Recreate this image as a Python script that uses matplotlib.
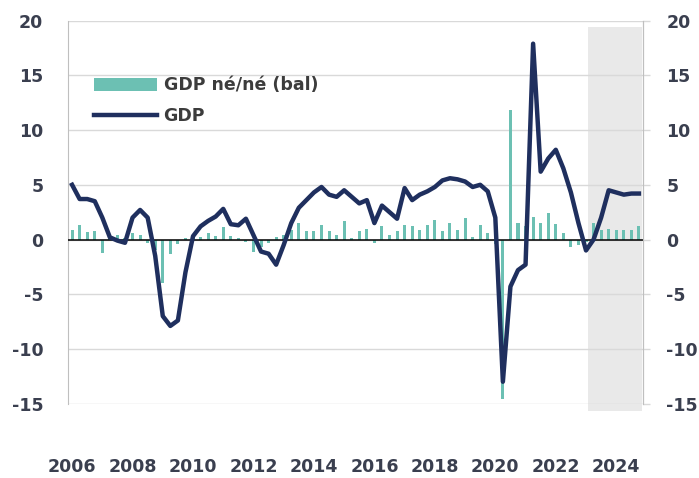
import numpy as np
import matplotlib.pyplot as plt

plt.rcParams['axes.unicode_minus'] = False

# quarterly data 2006Q1 - 2024Q4
gdp_yoy = [5.0, 3.7, 3.7, 3.5, 2.0, 0.2, -0.1, -0.3,
           2.0, 2.7, 2.0, -1.5, -7.0, -7.9, -7.4, -3.0,
           0.3, 1.2, 1.7, 2.1, 2.8, 1.4, 1.3, 1.9,
           0.4, -1.1, -1.3, -2.3, -0.5, 1.5, 2.9, 3.6,
           4.3, 4.8, 4.1, 3.9, 4.5, 3.9, 3.3, 3.6,
           1.5, 3.1, 2.5, 1.9, 4.7, 3.6, 4.1, 4.4,
           4.8, 5.4, 5.6, 5.5, 5.3, 4.8, 5.0, 4.4,
           2.0, -13.0, -4.3, -2.8, -2.3, 17.9, 6.2, 7.4,
           8.2, 6.5, 4.3, 1.5, -1.0, 0.0, 2.0, 4.5,
           4.3, 4.1, 4.2, 4.2]

gdp_qoq = [0.9, 1.3, 0.7, 0.8, -1.2, 0.2, 0.4, 0.1,
           0.6, 0.4, -0.3, -1.0, -4.0, -1.3, -0.4, 0.1,
           0.3, 0.2, 0.6, 0.3, 1.1, 0.3, 0.1, -0.2,
           -1.1, -0.7, -0.3, 0.2, 0.4, 0.9, 1.5, 0.8,
           0.8, 1.3, 0.8, 0.4, 1.7, 0.1, 0.8, 1.0,
           -0.35, 1.2, 0.4, 0.8, 1.3, 1.2, 0.9, 1.3,
           1.8, 0.8, 1.5, 0.9, 2.0, 0.25, 1.3, 0.6,
           -0.4, -14.6, 11.8, 1.5, 1.2, 2.1, 1.5, 2.4,
           1.4, 0.6, -0.7, -0.5, -0.2, 1.5, 0.9, 0.95,
           0.9, 0.9, 0.9, 1.2]

years = list(range(2006, 2025, 2))
forecast_start = 68.2

x = np.arange(len(gdp_yoy))

fig = plt.figure(figsize=(6.99, 4.78), dpi=100)
ax = fig.add_axes([68.3/699, (478-403.6)/478, (642.7-68.3)/699, (403.6-20.7)/478])

ax.set_xlim(-0.5, len(x) - 0.5)
ax.set_ylim(-15, 20)

# forecast shading
ax.axvspan(forecast_start, len(x) - 0.6, ymin=-0.019, ymax=0.983,
           color='#e9e9e9', lw=0, zorder=0, clip_on=False)

bars = ax.bar(x, gdp_qoq, width=0.4, color='#6cc0b3', zorder=2, label='GDP né/né (bal)')
ax.axhline(0, color='black', lw=1.1, zorder=3)
line, = ax.plot(x, gdp_yoy, color='#1f2f5e', lw=3.2, solid_joinstyle='round',
                zorder=4, label='GDP')

ax.set_yticks(range(-15, 21, 5))
ax.grid(axis='y', color='#d9d9d9', lw=1, zorder=1)
ax.set_axisbelow(True)

ax.set_xticks(x[::8])
ax.set_xticklabels([str(y) for y in years])
lab_kw = dict(labelsize=12.5, labelcolor='#3a3f4f')
ax.tick_params(axis='x', length=0, pad=39, **lab_kw)
ax.tick_params(axis='y', length=0, pad=18, **lab_kw)
for t in ax.get_xticklabels() + ax.get_yticklabels():
    t.set_fontweight('bold')

for s in ['top', 'bottom']:
    ax.spines[s].set_visible(False)
for s in ['left', 'right']:
    ax.spines[s].set_color('#bfbfbf')

ax2 = ax.twinx()
ax2.set_ylim(-15, 20)
ax2.set_yticks(range(-15, 21, 5))
ax2.tick_params(axis='y', length=5, width=1, color='#d9d9d9', pad=12, **lab_kw)
for t in ax2.get_yticklabels():
    t.set_fontweight('bold')
for s in ['top', 'bottom', 'left']:
    ax2.spines[s].set_visible(False)
ax2.spines['right'].set_color('#bfbfbf')

ax.legend([bars, line], ['GDP né/né (bal)', 'GDP'],
          loc='upper left', bbox_to_anchor=(0.045, 0.855), frameon=False,
          borderpad=0, borderaxespad=0, handlelength=3.6, handleheight=0.75,
          handletextpad=0.4, labelspacing=0.75,
          prop={'size': 12.5, 'weight': 'bold'}, labelcolor='#3c3c3c')

fig.savefig('out.png', dpi=100)
